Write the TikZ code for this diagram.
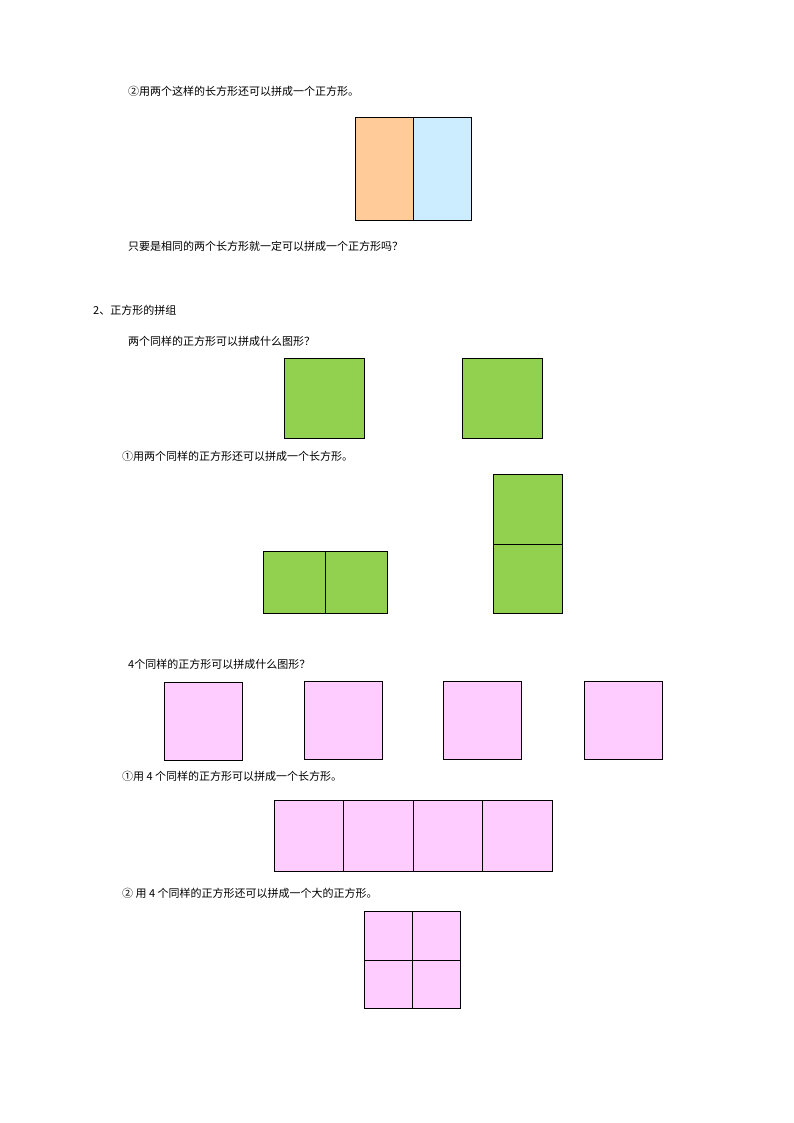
\documentclass[tikz,border=0pt]{standalone}
\usepackage{fontspec}
\newfontfamily\cjk{Noto Sans CJK SC}
\definecolor{org}{HTML}{FFCC99}
\definecolor{blu}{HTML}{CCECFF}
\definecolor{grn}{HTML}{92D050}
\definecolor{pnk}{HTML}{FFCCFF}
\begin{document}
\begin{tikzpicture}[x=1pt,y=-1pt,
  txt/.style={anchor=west,inner sep=0pt,font=\cjk\fontsize{11}{13}\selectfont},
  bx/.style={draw=black,line width=0.8pt}]
\useasboundingbox (0,0) rectangle (794,1123);
\node[txt] (t1) at (128,91) {②用两个这样的长方形还可以拼成一个正方形。};
\filldraw[bx,fill=org] (355,117) rectangle (413,220);
\filldraw[bx,fill=blu] (413,117) rectangle (471,220);
\node[txt] (t2) at (128,246) {只要是相同的两个长方形就一定可以拼成一个正方形吗？};
\node[txt] (t3) at (93,310) {2、正方形的拼组};
\node[txt] (t4) at (128,341) {两个同样的正方形可以拼成什么图形？};
\filldraw[bx,fill=grn] (284,358) rectangle (364,438);
\filldraw[bx,fill=grn] (462,358) rectangle (542,438);
\node[txt] (t5) at (122,456) {①用两个同样的正方形还可以拼成一个长方形。};
\filldraw[bx,fill=grn] (263,551) rectangle (325,613);
\filldraw[bx,fill=grn] (325,551) rectangle (387,613);
\filldraw[bx,fill=grn] (493,474) rectangle (562,544);
\filldraw[bx,fill=grn] (493,544) rectangle (562,613);
\node[txt] (t6) at (128,664) {4个同样的正方形可以拼成什么图形？};
\filldraw[bx,fill=pnk] (164,682) rectangle (242,760);
\filldraw[bx,fill=pnk] (304,681) rectangle (382,759);
\filldraw[bx,fill=pnk] (443,681) rectangle (521,759);
\filldraw[bx,fill=pnk] (584,681) rectangle (662,759);
\node[txt] (t7) at (122,776) {①用 4 个同样的正方形可以拼成一个长方形。};
\filldraw[bx,fill=pnk] (274,800) rectangle (552,871);
\draw[bx] (343,800) -- (343,871) (413,800) -- (413,871) (482,800) -- (482,871);
\node[txt] (t8) at (122,893) {② 用 4 个同样的正方形还可以拼成一个大的正方形。};
\filldraw[bx,fill=pnk] (364,911) rectangle (460,1008);
\draw[bx] (412,911) -- (412,1008) (364,960) -- (460,960);
\end{tikzpicture}
\end{document}
